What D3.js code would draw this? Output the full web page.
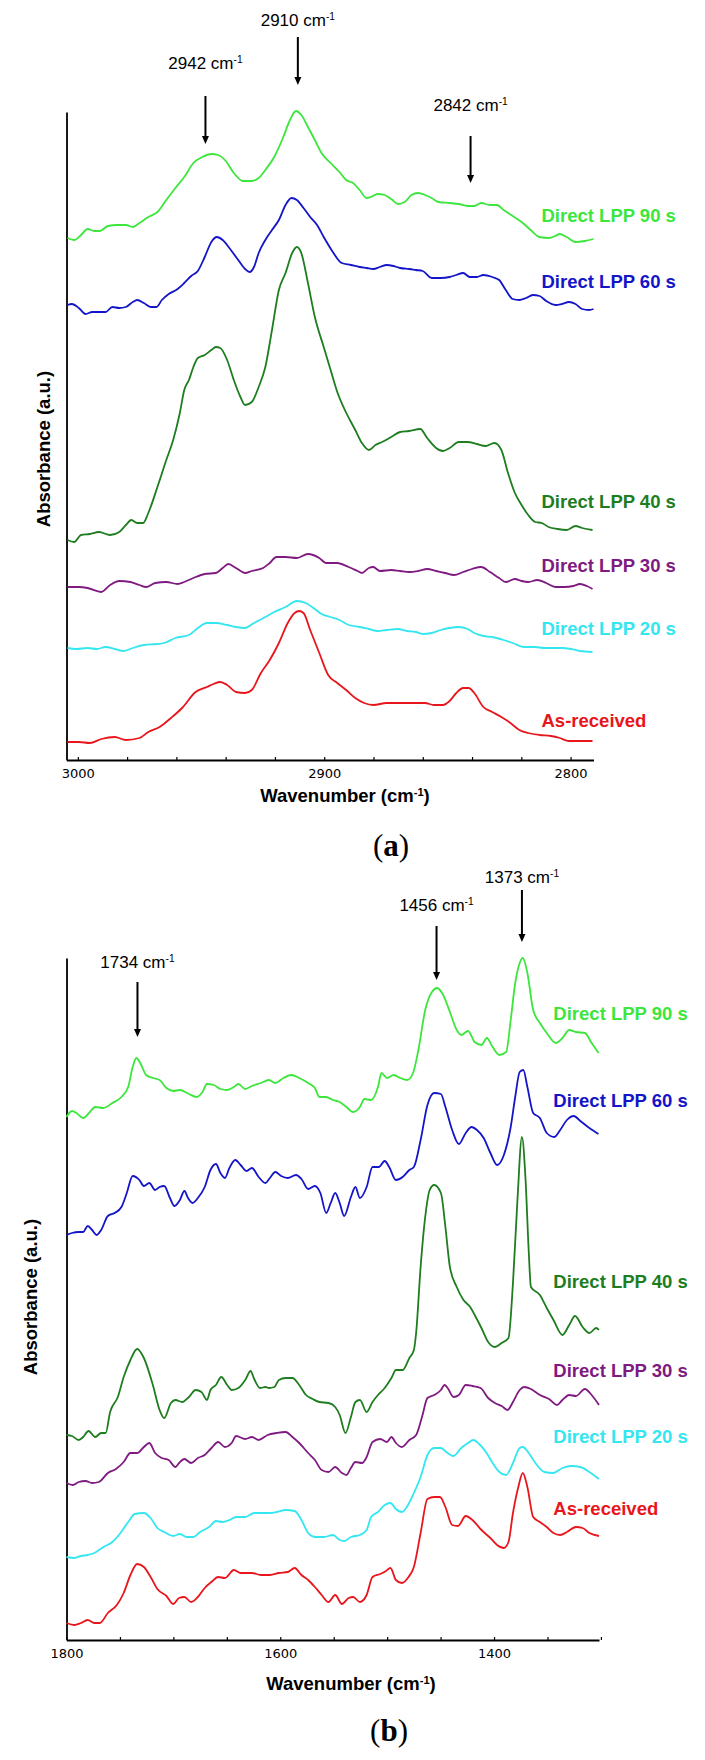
<!DOCTYPE html>
<html>
<head>
<meta charset="utf-8">
<script src="https://cdn.jsdelivr.net/npm/d3@7"></script>
<style>
  body { margin: 0; background: #fff; }
  svg { display: block; }
</style>
</head>
<body>
<svg id="chart"></svg>
<script>
//------ Données ------
// chaque point : [nombre d'onde (cm-1), absorbance (u.a., décalée)]

// (a) zone 3005 - 2790 cm-1
const lpp90A = [[3004.2,522],[3001.5,520],[2998.7,525],[2996.0,531],[2993.3,529],[2991.1,529],[2987.8,534],[2984.1,535],[2980.5,535],[2977.7,533],[2975.0,537],[2971.4,543],[2967.7,548],[2964.1,560],[2960.4,572],[2956.8,583],[2953.1,597],[2949.5,603],[2945.8,606],[2943.1,605],[2940.3,600],[2936.7,587],[2933.0,579],[2929.4,579],[2926.6,582],[2923.9,590],[2920.3,603],[2916.6,623],[2913.9,640],[2911.5,649],[2909.3,645],[2906.6,633],[2903.8,620],[2901.1,607],[2897.4,597],[2893.8,588],[2891.1,580],[2888.3,577],[2885.6,570],[2882.8,562],[2881.0,563],[2878.3,566],[2875.5,565],[2872.8,561],[2870.1,556],[2867.3,558],[2864.6,565],[2861.9,567],[2859.1,565],[2856.4,562],[2853.6,558],[2849.1,557],[2845.4,556],[2841.8,554],[2839.1,554],[2836.3,557],[2832.7,555],[2829.9,555],[2827.2,550],[2823.5,544],[2819.9,538],[2816.2,530],[2812.6,523],[2808.9,522],[2806.2,524],[2804.4,526],[2801.6,523],[2798.0,518],[2794.3,519],[2790.7,521]]
const lpp60A = [[3004.2,455],[3002.4,456],[2999.6,452],[2996.9,446],[2994.2,448],[2991.4,448],[2988.7,448],[2986.0,453],[2983.2,452],[2980.5,453],[2977.7,458],[2975.9,460],[2973.2,457],[2970.4,453],[2968.1,453],[2965.9,460],[2963.1,466],[2959.5,471],[2956.8,477],[2954.0,484],[2951.3,489],[2948.5,503],[2945.8,518],[2943.6,523],[2941.2,520],[2938.5,512],[2934.9,500],[2932.1,491],[2930.3,488],[2928.5,493],[2926.6,507],[2923.9,520],[2921.2,530],[2918.4,540],[2915.7,555],[2913.3,562],[2911.1,560],[2908.4,552],[2905.7,543],[2902.9,535],[2900.2,523],[2896.5,508],[2892.9,497],[2889.2,495],[2885.6,493],[2882.8,492],[2880.1,491],[2877.4,493],[2874.6,495],[2871.9,494],[2869.2,492],[2865.5,491],[2862.8,490],[2860.0,489],[2856.4,482],[2852.7,482],[2849.1,483],[2846.4,485],[2843.6,487],[2840.9,483],[2838.1,483],[2835.4,485],[2831.8,483],[2829.0,480],[2826.3,470],[2823.5,461],[2820.8,460],[2818.1,462],[2815.3,465],[2812.6,464],[2809.9,459],[2806.2,455],[2803.5,456],[2800.7,458],[2798.0,456],[2795.3,451],[2792.5,450],[2790.7,451]]
const lpp40A = [[3004.2,220],[3001.5,218],[2998.7,225],[2995.1,226],[2991.4,228],[2986.9,225],[2983.2,228],[2980.5,235],[2978.3,240],[2975.9,237],[2973.5,237],[2971.4,247],[2967.7,273],[2964.1,300],[2961.3,320],[2958.6,347],[2956.8,370],[2954.9,380],[2953.1,393],[2951.3,402],[2948.5,405],[2945.8,410],[2944.0,413],[2942.2,412],[2939.4,400],[2936.7,380],[2934.0,363],[2932.1,355],[2929.4,358],[2926.6,373],[2923.9,393],[2921.2,430],[2918.4,470],[2915.7,487],[2913.0,507],[2911.1,513],[2909.3,507],[2906.6,477],[2903.8,443],[2900.2,413],[2897.4,390],[2894.7,368],[2892.0,352],[2887.4,330],[2884.7,317],[2881.9,310],[2879.2,315],[2876.5,318],[2872.8,323],[2869.2,328],[2865.5,329],[2861.0,331],[2858.2,322],[2854.6,312],[2851.8,309],[2849.1,312],[2845.4,318],[2841.8,318],[2838.1,316],[2834.5,314],[2830.9,317],[2828.1,310],[2825.4,287],[2822.6,267],[2819.9,255],[2817.2,245],[2814.4,238],[2811.7,237],[2808.9,233],[2805.3,231],[2801.6,230],[2798.0,234],[2795.3,232],[2791.1,230]]
const lpp30A = [[3004.2,173],[2999.6,173],[2996.0,172],[2990.5,168],[2986.9,175],[2983.2,179],[2978.7,178],[2975.0,175],[2972.3,173],[2968.6,177],[2964.1,178],[2959.5,176],[2956.8,178],[2953.1,182],[2948.5,186],[2944.0,187],[2941.2,192],[2938.9,196],[2935.8,192],[2932.1,187],[2929.4,189],[2924.8,192],[2922.1,197],[2919.4,203],[2915.7,203],[2911.1,202],[2906.6,206],[2902.0,202],[2899.3,197],[2894.7,197],[2890.1,193],[2886.5,189],[2884.7,187],[2881.9,192],[2880.1,193],[2877.4,189],[2872.8,190],[2869.2,189],[2865.5,188],[2861.9,189],[2858.2,191],[2854.6,189],[2850.9,187],[2847.3,185],[2843.6,188],[2840.0,191],[2836.3,193],[2832.7,188],[2829.0,182],[2826.3,178],[2822.6,181],[2819.9,179],[2817.2,178],[2813.5,180],[2809.9,177],[2806.2,173],[2802.6,173],[2798.9,174],[2796.2,176],[2793.4,174],[2791.1,171]]
const lpp20A = [[3004.2,112],[3000.6,111],[2996.0,112],[2992.3,111],[2988.7,113],[2985.0,111],[2981.4,109],[2977.7,112],[2973.2,115],[2967.7,116],[2965.0,117],[2960.4,122],[2954.9,125],[2951.3,132],[2947.6,137],[2944.0,137],[2939.4,135],[2935.8,133],[2932.1,132],[2928.5,137],[2923.9,143],[2920.3,148],[2915.7,153],[2911.1,159],[2907.5,157],[2903.8,151],[2901.1,146],[2897.4,143],[2893.8,140],[2890.1,135],[2885.6,133],[2881.9,131],[2878.3,129],[2874.6,130],[2870.1,131],[2866.4,129],[2862.8,128],[2860.0,126],[2856.4,127],[2852.7,130],[2849.1,132],[2845.4,133],[2841.8,131],[2839.1,127],[2835.4,124],[2831.8,123],[2827.2,120],[2823.5,117],[2819.0,113],[2814.4,113],[2810.8,112],[2807.1,112],[2803.5,112],[2799.8,111],[2796.2,109],[2791.1,108]]
const asReceivedA = [[3004.2,18],[2999.6,18],[2995.1,17],[2990.5,21],[2985.0,23],[2980.5,20],[2975.0,22],[2971.4,28],[2966.8,33],[2962.2,42],[2957.7,52],[2952.2,68],[2947.6,73],[2944.9,76],[2942.2,78],[2939.4,75],[2935.8,68],[2932.1,67],[2929.4,70],[2925.7,87],[2922.1,100],[2918.4,117],[2914.8,137],[2912.0,147],[2910.2,149],[2908.4,147],[2905.7,130],[2902.0,107],[2898.4,85],[2894.7,77],[2891.1,70],[2887.4,62],[2883.8,57],[2880.1,55],[2874.6,57],[2869.2,57],[2863.7,57],[2859.1,57],[2855.5,55],[2851.8,55],[2849.1,59],[2846.4,67],[2843.6,72],[2841.4,72],[2839.1,67],[2835.4,53],[2831.8,48],[2828.1,43],[2824.4,37],[2820.8,30],[2817.2,27],[2812.6,25],[2808.0,24],[2804.4,22],[2800.7,19],[2796.2,19],[2791.1,19]]

// (b) zone 1800 - 1300 cm-1
const lpp90B = [[1800.0,523],[1794.9,529],[1790.7,527],[1784.4,522],[1778.1,528],[1773.1,533],[1765.5,532],[1757.1,537],[1748.6,543],[1742.3,553],[1738.1,573],[1734.7,582],[1731.0,577],[1725.5,565],[1719.2,562],[1712.9,560],[1706.5,552],[1700.2,549],[1693.9,550],[1685.5,546],[1678.3,543],[1672.8,548],[1668.6,556],[1662.3,555],[1656.0,551],[1649.7,550],[1643.4,553],[1639.2,556],[1632.8,551],[1626.5,554],[1618.1,557],[1610.6,560],[1604.6,557],[1597.1,562],[1589.5,565],[1582.3,562],[1573.9,557],[1567.6,552],[1563.4,543],[1557.0,543],[1550.7,540],[1544.4,538],[1538.1,533],[1531.8,528],[1525.5,533],[1521.3,541],[1515.0,540],[1508.6,553],[1505.3,567],[1500.2,562],[1493.9,565],[1487.6,562],[1481.3,560],[1475.8,567],[1470.8,590],[1464.4,630],[1458.1,648],[1453.1,652],[1447.6,645],[1441.3,628],[1434.9,610],[1430.7,605],[1424.4,609],[1418.1,598],[1411.8,595],[1406.7,602],[1401.3,593],[1395.0,585],[1388.7,588],[1384.4,620],[1380.2,657],[1376.0,677],[1373.1,682],[1368.8,667],[1363.4,630],[1357.1,617],[1350.7,607],[1342.3,597],[1336.0,602],[1329.7,610],[1323.4,608],[1315.0,607],[1308.7,597],[1302.3,587]]
const lpp60B = [[1800.0,405],[1794.9,407],[1788.6,408],[1784.4,408],[1780.2,414],[1776.0,410],[1771.8,405],[1767.6,410],[1761.3,424],[1755.0,427],[1748.6,433],[1743.6,447],[1738.1,464],[1731.8,460],[1727.6,454],[1722.5,457],[1717.1,450],[1712.9,453],[1708.6,454],[1703.2,442],[1699.0,434],[1693.9,440],[1689.7,449],[1686.3,442],[1682.1,437],[1677.1,442],[1670.7,453],[1665.3,470],[1660.2,476],[1656.0,467],[1651.8,462],[1647.6,472],[1642.1,480],[1637.1,475],[1631.6,469],[1626.5,472],[1620.2,463],[1613.9,457],[1609.7,462],[1604.6,468],[1599.2,464],[1592.9,462],[1585.3,465],[1580.2,461],[1573.9,451],[1567.6,454],[1562.5,447],[1557.0,427],[1552.8,437],[1548.6,447],[1544.4,437],[1540.2,424],[1533.9,443],[1529.7,453],[1525.5,442],[1519.2,453],[1513.7,473],[1507.8,473],[1502.3,479],[1498.1,473],[1491.8,460],[1485.5,463],[1479.2,470],[1475.0,473],[1468.7,500],[1462.3,535],[1456.0,547],[1449.7,546],[1445.5,533],[1439.2,510],[1432.9,496],[1426.5,507],[1421.1,513],[1416.0,510],[1409.7,502],[1403.4,487],[1397.1,475],[1390.8,485],[1384.4,513],[1380.2,543],[1376.0,568],[1372.6,570],[1368.8,553],[1363.4,527],[1357.1,522],[1350.7,507],[1343.6,503],[1338.1,510],[1331.8,520],[1325.5,524],[1319.2,519],[1310.8,512],[1302.3,506]]
const lpp40B = [[1800.0,205],[1794.9,204],[1788.6,200],[1784.4,203],[1779.4,209],[1773.1,203],[1767.6,207],[1763.4,207],[1759.2,228],[1752.0,243],[1746.5,263],[1740.2,280],[1733.9,291],[1727.6,282],[1719.2,255],[1712.9,230],[1708.6,222],[1702.3,237],[1698.1,240],[1691.8,238],[1685.5,243],[1679.2,250],[1673.7,248],[1668.6,240],[1665.3,250],[1660.2,255],[1655.2,263],[1649.7,255],[1645.5,250],[1639.2,252],[1632.8,260],[1627.8,269],[1624.4,261],[1619.0,252],[1613.9,253],[1610.6,252],[1605.5,253],[1601.3,260],[1595.0,262],[1588.6,262],[1582.3,255],[1576.0,245],[1569.7,241],[1563.4,238],[1554.9,237],[1548.6,233],[1544.4,225],[1539.0,207],[1533.9,223],[1529.7,238],[1525.5,240],[1519.2,228],[1513.7,238],[1508.6,245],[1502.3,252],[1496.0,262],[1491.8,270],[1485.5,270],[1479.2,282],[1475.0,290],[1472.9,307],[1468.7,373],[1464.4,423],[1460.2,450],[1456.0,455],[1449.7,447],[1445.5,413],[1441.3,373],[1434.9,353],[1428.6,340],[1422.3,333],[1418.1,325],[1411.8,312],[1405.5,298],[1399.2,293],[1392.9,297],[1386.5,302],[1382.3,357],[1378.1,440],[1373.9,503],[1370.5,460],[1367.6,390],[1365.5,353],[1357.1,345],[1350.7,332],[1344.4,320],[1336.0,305],[1329.7,315],[1324.2,324],[1317.1,313],[1310.8,307],[1304.4,312],[1301.8,310]]
const lpp30B = [[1800.0,157],[1794.1,155],[1788.6,158],[1782.3,159],[1776.0,157],[1769.7,158],[1761.3,167],[1753.7,171],[1746.5,178],[1740.2,187],[1733.9,187],[1727.6,193],[1722.5,197],[1717.1,187],[1710.8,182],[1704.4,180],[1698.1,173],[1694.7,177],[1689.7,181],[1683.4,177],[1677.1,182],[1670.7,185],[1664.4,192],[1658.1,198],[1651.8,193],[1645.5,197],[1641.3,204],[1632.8,201],[1626.5,203],[1620.2,200],[1611.8,205],[1603.3,207],[1595.0,208],[1588.6,203],[1582.3,197],[1573.9,187],[1567.6,180],[1561.3,170],[1554.9,168],[1548.6,173],[1542.3,167],[1538.1,165],[1533.9,172],[1529.7,178],[1523.4,177],[1519.2,183],[1513.7,198],[1506.5,201],[1500.2,198],[1496.0,203],[1491.8,197],[1486.3,193],[1479.2,200],[1472.9,205],[1467.4,223],[1462.3,242],[1456.0,245],[1449.7,250],[1446.3,255],[1443.4,252],[1437.9,243],[1432.9,245],[1426.5,255],[1420.2,254],[1412.6,252],[1405.5,242],[1399.2,237],[1392.9,234],[1387.4,230],[1382.3,238],[1376.0,250],[1371.8,253],[1365.5,251],[1357.1,245],[1348.6,241],[1341.1,235],[1336.0,240],[1329.7,245],[1323.4,244],[1315.0,251],[1308.7,245],[1301.8,235]]
const lpp20B = [[1800.0,83],[1792.8,82],[1786.5,84],[1780.2,85],[1773.9,87],[1765.5,93],[1757.1,98],[1749.5,107],[1742.3,118],[1736.0,126],[1727.6,127],[1721.3,122],[1715.0,112],[1708.6,108],[1700.2,104],[1693.9,106],[1687.6,103],[1681.3,103],[1675.0,108],[1666.5,113],[1660.2,119],[1653.9,118],[1647.6,120],[1641.3,123],[1632.8,123],[1624.4,127],[1616.0,127],[1609.7,127],[1603.3,128],[1595.0,130],[1586.5,129],[1580.2,120],[1573.9,107],[1567.6,103],[1559.2,103],[1550.7,105],[1544.4,100],[1540.2,99],[1533.9,103],[1525.5,105],[1519.2,110],[1515.0,123],[1508.6,128],[1502.3,135],[1496.9,137],[1491.8,131],[1486.3,128],[1480.0,136],[1475.0,147],[1468.7,163],[1462.3,185],[1456.0,192],[1449.7,192],[1443.4,187],[1437.9,184],[1430.7,192],[1424.4,197],[1419.4,200],[1413.9,196],[1407.6,188],[1401.3,177],[1395.0,168],[1388.7,165],[1382.3,177],[1376.0,192],[1373.1,193],[1367.6,187],[1361.3,177],[1352.9,168],[1344.4,167],[1336.0,172],[1327.6,174],[1319.2,173],[1310.8,168],[1301.8,161]]
const asReceivedB = [[1800.0,17],[1792.8,15],[1786.5,17],[1780.2,20],[1773.9,17],[1768.8,17],[1761.3,27],[1752.9,35],[1746.5,47],[1740.2,65],[1733.9,76],[1727.6,73],[1721.3,63],[1715.0,51],[1706.5,44],[1700.2,36],[1694.7,42],[1689.7,43],[1683.4,38],[1677.1,43],[1670.7,52],[1664.4,58],[1658.1,63],[1651.8,62],[1643.4,70],[1637.1,67],[1626.5,67],[1618.1,65],[1609.7,65],[1601.3,67],[1592.9,68],[1586.5,72],[1580.2,65],[1573.9,60],[1567.6,53],[1561.3,45],[1554.9,38],[1548.6,45],[1542.3,36],[1536.0,42],[1531.8,43],[1525.5,38],[1519.2,45],[1513.7,63],[1506.5,66],[1501.1,69],[1496.9,72],[1491.8,60],[1486.3,57],[1480.0,63],[1475.0,73],[1468.7,107],[1462.3,141],[1456.0,143],[1450.6,143],[1445.5,133],[1439.2,115],[1433.7,114],[1426.5,124],[1420.2,120],[1411.8,110],[1403.4,102],[1397.1,95],[1390.8,92],[1386.5,98],[1382.3,127],[1377.3,153],[1373.1,167],[1368.8,153],[1363.4,123],[1357.1,118],[1350.7,113],[1344.4,107],[1338.1,105],[1331.8,108],[1323.4,113],[1317.1,112],[1310.8,107],[1301.8,104]]

// légendes, couleurs, graduations
const seriesNames = ["As-received", "Direct LPP 20 s", "Direct LPP 30 s", "Direct LPP 40 s", "Direct LPP 60 s", "Direct LPP 90 s"]
const seriesColors = ["#e8161c", "#33e6f0", "#7e1a80", "#1e7d1e", "#1414c8", "#3ce63c"]
const ticksA = d3.range(3000, 2789, -20)
const labelTicksA = [3000, 2900, 2800]
const ticksB = d3.range(1800, 1299, -50)
const labelTicksB = [1800, 1600, 1400]
const peaksA = [2948.2, 2910.7, 2840.6]
const peakTextA = ["2942", "2910", "2842"]
const peaksB = [1733.6, 1453.8, 1373.9]
const peakTextB = ["1734", "1456", "1373"]

//------ Mise en page ------
const width = 705, height = 1760
const svg = d3.select("#chart").attr("width", width).attr("height", height)

const panels = [
    {
        series: [asReceivedA, lpp20A, lpp30A, lpp40A, lpp60A, lpp90A],
        xDomain: [3004.6, 2790.7], yDomain: [0, 648],
        left: 66.5, right: 593.5, top: 112, bottom: 760,
        ticks: ticksA, labelTicks: labelTicksA,
        labelX: 2811.8, labelY: [33, 125, 188, 252, 472, 538],
        peaks: peaksA, peakText: peakTextA,
        peakTextY: [691, 734, 649], arrowTop: [664, 723, 624], arrowBottom: [616, 675, 577],
        yTitleX: 50, yTitleY: 449, xTitleX: 345, xTitleY: 802,
        caption: "a", capX: 391, capY: 856
    },
    {
        series: [asReceivedB, lpp20B, lpp30B, lpp40B, lpp60B, lpp90B],
        xDomain: [1800, 1301.8], yDomain: [0, 682],
        left: 66.5, right: 599, top: 958, bottom: 1640,
        ticks: ticksB, labelTicks: labelTicksB,
        labelX: 1344.5, labelY: [125, 197, 263, 352, 533, 620],
        peaks: peaksB, peakText: peakTextB,
        peakTextY: [672, 729, 757], arrowTop: [658, 714, 750], arrowBottom: [603, 660, 698],
        yTitleX: 37, yTitleY: 1297, xTitleX: 351, xTitleY: 1690,
        caption: "b", capX: 389, capY: 1741
    }
]

// texte avec exposant "-1"
function cmText(sel, before, after) {
    sel.append("tspan").text(before)
    sel.append("tspan").attr("font-size", "0.6em").attr("dy", "-0.55em").text("-1")
    if (after) sel.append("tspan").attr("dy", "0.33em").text(after)
}

function drawPanel(p) {
    const x = d3.scaleLinear().domain(p.xDomain).range([p.left, p.right])
    const y = d3.scaleLinear().domain(p.yDomain).range([p.bottom, p.top])
    const g = svg.append("g")

    // axe des x
    const xAxis = g.append("g")
        .attr("transform", `translate(0,${p.bottom})`)
        .call(d3.axisBottom(x)
            .tickValues(p.ticks)
            .tickSizeInner(-3)
            .tickSizeOuter(0)
            .tickPadding(9)
            .tickFormat(d => p.labelTicks.includes(d) ? d : ""))
    xAxis.select(".domain").attr("stroke-width", 1.8)
    xAxis.selectAll(".tick line").attr("stroke-width", 1.2)
    xAxis.selectAll("text")
        .attr("font-family", "DejaVu Sans, sans-serif")
        .attr("font-size", 13)
        .attr("fill", "#000")

    // axe des y (sans graduations)
    g.append("g")
        .attr("transform", `translate(${p.left},0)`)
        .call(d3.axisLeft(y).tickValues([]).tickSizeOuter(0))
        .select(".domain").attr("stroke-width", 1.8)

    // courbes
    const line = d3.line()
        .x(d => x(d[0]))
        .y(d => y(d[1]))
        .curve(d3.curveMonotoneX)

    g.selectAll("path.spectrum")
        .data(p.series)
        .enter()
        .append("path")
        .attr("class", "spectrum")
        .attr("fill", "none")
        .attr("stroke", (d, i) => seriesColors[i])
        .attr("stroke-width", 1.8)
        .attr("stroke-linejoin", "round")
        .attr("d", line)

    // noms des séries
    g.selectAll("text.name")
        .data(seriesNames)
        .enter()
        .append("text")
        .attr("class", "name")
        .attr("x", x(p.labelX))
        .attr("y", (d, i) => y(p.labelY[i]))
        .attr("fill", (d, i) => seriesColors[i])
        .attr("font-family", "Liberation Sans, Arial, sans-serif")
        .attr("font-weight", "bold")
        .attr("font-size", 18.5)
        .text(d => d)

    // flèches des pics
    p.peaks.forEach((wn, i) => {
        const ax = x(wn)
        const y0 = y(p.arrowTop[i]), y1 = y(p.arrowBottom[i])
        g.append("line")
            .attr("x1", ax).attr("x2", ax)
            .attr("y1", y0).attr("y2", y1 - 6)
            .attr("stroke", "#000").attr("stroke-width", 2)
        g.append("path")
            .attr("d", `M${ax - 3.5},${y1 - 8}L${ax + 3.5},${y1 - 8}L${ax},${y1}Z`)
            .attr("fill", "#000")
        g.append("text")
            .attr("x", ax)
            .attr("y", y(p.peakTextY[i]))
            .attr("text-anchor", "middle")
            .attr("font-family", "Liberation Sans, Arial, sans-serif")
            .attr("font-size", 17)
            .call(t => cmText(t, p.peakText[i] + " cm"))
    })

    // titres des axes
    g.append("text")
        .attr("x", p.xTitleX).attr("y", p.xTitleY)
        .attr("text-anchor", "middle")
        .attr("font-family", "Liberation Sans, Arial, sans-serif")
        .attr("font-weight", "bold")
        .attr("font-size", 18.5)
        .call(t => cmText(t, "Wavenumber (cm", ")"))

    g.append("text")
        .attr("transform", `translate(${p.yTitleX},${p.yTitleY}) rotate(-90)`)
        .attr("text-anchor", "middle")
        .attr("font-family", "Liberation Sans, Arial, sans-serif")
        .attr("font-weight", "bold")
        .attr("font-size", 18.5)
        .text("Absorbance (a.u.)")

    // légende (a) / (b)
    const cap = g.append("text")
        .attr("x", p.capX).attr("y", p.capY)
        .attr("text-anchor", "middle")
        .attr("font-family", "Liberation Serif, Times New Roman, serif")
        .attr("font-size", 31)
    cap.append("tspan").text("(")
    cap.append("tspan").attr("font-weight", "bold").text(p.caption)
    cap.append("tspan").text(")")
}

panels.forEach(drawPanel)
</script>
</body>
</html>
